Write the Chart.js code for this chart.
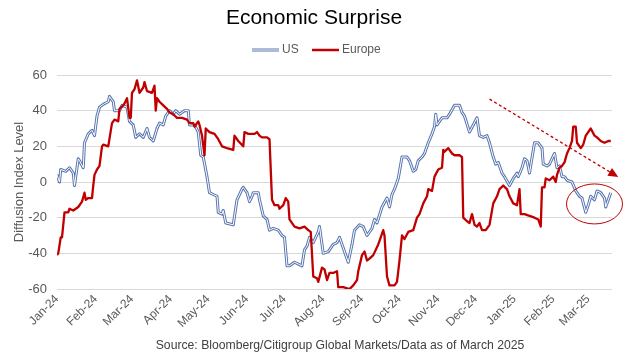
<!DOCTYPE html>
<html>
<head>
<meta charset="utf-8">
<script src="https://cdn.jsdelivr.net/npm/chart.js@4.4.1/dist/chart.umd.min.js"></script>
<style>
html,body{margin:0;padding:0;background:#ffffff;}
#wrap{width:629px;height:355px;}
</style>
</head>
<body>
<div id="wrap"><canvas id="c" width="629" height="355"></canvas></div>
<script>
// ---- DATA (x = days since 2024-01-01) ----
const tickLabels = ['Jan-24','Feb-24','Mar-24','Apr-24','May-24','Jun-24','Jul-24','Aug-24','Sep-24','Oct-24','Nov-24','Dec-24','Jan-25','Feb-25','Mar-25'];
const yTickValues = [-60,-40,-20,0,20,40,60];

const usDays = [
  0,2,3,7,10,13,14,17,18,21,
  22,25,28,30,32,34,38,41,42,45,
  46,50,52,56,58,61,63,66,69,72,
  74,77,80,82,85,87,90,93,95,98,
  102,105,106,110,113,115,117,120,122,125,
  128,129,132,133,135,141,144,148,149,152,
  154,156,157,161,162,165,168,170,173,177,
  180,182,184,186,190,193,196,198,200,202,
  205,209,210,213,217,221,224,226,229,233,
  236,238,242,245,248,252,254,256,260,264,
  266,268,270,273,276,280,282,285,287,289,
  292,294,297,300,302,303,304,308,312,314,
  318,322,324,326,330,333,336,338,341,344,
  346,349,351,353,356,358,362,365,368,369,
  372,374,376,378,382,385,388,389,392,394,
  398,400,402,404,406,408,412,415,418,420,
  423,425,427,430,432,435,438,439,443
];
const usValues = [
  4,0,7,6,8,5,-2,13,12,8,
  22,27,29,26,37,42,44,45,48,45,
  40,40,43,42,34,32,25,27,25,30,
  25,23,30,33,32,37,40,38,40,38,
  40,40,32,32,28,15,14,3,-6,-7,
  -8,-17,-18,-16,-23,-24,-10,-4,-3,-6,
  -11,-8,-6,-6,-10,-19,-21,-27,-26,-27,
  -30,-31,-47,-47,-45,-46,-47,-38,-36,-31,
  -34,-28,-25,-40,-39,-35,-34,-31,-37,-45,
  -35,-27,-24,-25,-30,-26,-21,-23,-14,-9,
  -14,-7,-4,2,14,14,12,6,7,12,
  14,16,22,27,31,38,32,36,36,38,
  43,43,39,37,28,32,36,26,25,26,
  22,14,10,11,5,3,-2,2,5,3,
  8,13,12,5,22,22,19,10,9,10,
  16,8,9,3,3,1,0,-5,-8,-9,
  -17,-13,-8,-10,-5,-6,-9,-14,-6
];

const euDays = [
  0,1,3,4,6,9,10,13,17,20,
  22,23,25,28,29,30,32,34,36,37,
  41,44,46,49,50,53,54,56,58,59,
  60,62,64,66,69,70,72,76,78,79,
  80,82,85,88,90,93,96,100,104,106,
  109,110,113,114,116,118,119,122,126,129,
  132,136,141,142,145,149,150,153,156,158,
  160,162,164,168,170,172,174,177,178,181,
  183,185,186,190,194,198,201,203,205,208,
  209,212,214,216,218,221,224,225,229,234,
  237,240,241,244,246,248,250,253,257,258,
  261,262,264,266,270,272,274,276,278,281,
  285,288,290,293,296,297,300,302,305,308,
  309,310,313,316,318,322,324,325,328,330,
  332,334,336,338,340,343,346,349,352,354,
  357,360,362,365,368,370,371,374,378,382,
  385,387,388,390,391,394,397,399,400,402,
  404,406,408,410,412,413,415,416,419,421,
  423,427,430,432,435,438,441,443
];
const euValues = [
  -41,-40,-31,-31,-17,-17,-15,-16,-14,-11,
  -6,-10,-9,-9,-2,4,7,9,20,21,
  20,33,35,34,41,43,44,47,36,36,
  50,52,57,50,53,56,51,50,54,40,
  47,45,43,41,39,38,36,36,35,33,
  33,31,34,32,26,15,30,28,27,24,
  20,19,18,26,23,20,28,27,27,27,
  28,26,25,25,24,-10,-13,-13,-15,-13,
  -9,-11,-21,-25,-26,-25,-27,-28,-53,-54,
  -56,-48,-49,-55,-51,-51,-50,-59,-59,-60,
  -58,-55,-50,-41,-39,-44,-43,-41,-35,-33,
  -27,-30,-53,-58,-58,-56,-44,-30,-32,-28,
  -27,-20,-18,-12,-8,-4,-5,3,7,8,
  18,17,19,16,15,15,14,-20,-22,-23,
  -18,-24,-25,-23,-27,-27,-24,-12,-8,-4,
  -2,-4,-8,-12,-13,-4,-18,-18,-19,-20,
  -21,-25,-3,-3,2,1,3,0,4,8,
  9,11,16,19,23,31,31,22,19,21,
  26,30,26,25,23,22,23,23
];

// annotation anchors in data units (day, value)
const arrowStart = [346, 46.5];
const arrowTip = [449, 2.8];
const ellipseCenter = [430, -12.3];

// ---- derived ----
const DAY = 86400000;
const base = Date.UTC(2024, 0, 1);
const tickDays = tickLabels.map((l, i) => Math.round((Date.UTC(2024, i, 1) - base) / DAY));
const toPoints = (xs, ys) => xs.map((x, i) => ({x: x, y: ys[i]}));
const FONT = '"Liberation Sans", Arial, sans-serif';
const US_BLUE = '#5a77b0';
const EU_RED = '#c00000';

const overlayPlugin = {
  id: 'overlay',
  afterDatasetsDraw(chart) {
    const ctx = chart.ctx, xs = chart.scales.x, ys = chart.scales.y;
    ctx.save();
    // dotted arrow
    const x0 = xs.getPixelForValue(arrowStart[0]), y0 = ys.getPixelForValue(arrowStart[1]);
    const x1 = xs.getPixelForValue(arrowTip[0]), y1 = ys.getPixelForValue(arrowTip[1]);
    const ang = Math.atan2(y1 - y0, x1 - x0);
    const headL = 10, headW = 4.5;
    const bx = x1 - headL * Math.cos(ang), by = y1 - headL * Math.sin(ang);
    ctx.strokeStyle = EU_RED; ctx.lineWidth = 1.3; ctx.setLineDash([3, 2.5]);
    ctx.beginPath(); ctx.moveTo(x0, y0); ctx.lineTo(bx, by); ctx.stroke();
    ctx.setLineDash([]);
    ctx.fillStyle = EU_RED;
    ctx.beginPath();
    ctx.moveTo(x1, y1);
    ctx.lineTo(bx + headW * Math.sin(ang), by - headW * Math.cos(ang));
    ctx.lineTo(bx - headW * Math.sin(ang), by + headW * Math.cos(ang));
    ctx.closePath(); ctx.fill();
    // ellipse
    const cx = xs.getPixelForValue(ellipseCenter[0]), cy = ys.getPixelForValue(ellipseCenter[1]);
    ctx.strokeStyle = EU_RED; ctx.lineWidth = 1;
    ctx.beginPath(); ctx.ellipse(cx, cy, 28, 20, 0, 0, Math.PI * 2); ctx.stroke();
    ctx.restore();
  },
  afterDraw(chart) {
    const ctx = chart.ctx;
    ctx.save();
    // title
    ctx.fillStyle = '#000000';
    ctx.font = '21px ' + FONT;
    ctx.textAlign = 'center'; ctx.textBaseline = 'middle';
    ctx.fillText('Economic Surprise', 314, 18);
    // legend
    const ly = 50;
    ctx.lineCap = 'butt';
    ctx.strokeStyle = US_BLUE; ctx.lineWidth = 3;
    ctx.beginPath(); ctx.moveTo(252, ly); ctx.lineTo(279, ly); ctx.stroke();
    ctx.strokeStyle = '#ffffff'; ctx.lineWidth = 1;
    ctx.beginPath(); ctx.moveTo(252, ly); ctx.lineTo(279, ly); ctx.stroke();
    ctx.strokeStyle = EU_RED; ctx.lineWidth = 2.5;
    ctx.beginPath(); ctx.moveTo(312, ly); ctx.lineTo(339, ly); ctx.stroke();
    ctx.fillStyle = '#595959';
    ctx.font = '12px ' + FONT;
    ctx.textAlign = 'left';
    ctx.fillText('US', 282, ly);
    ctx.fillText('Europe', 342, ly);
    // source
    ctx.fillStyle = '#404040';
    ctx.font = '12.2px ' + FONT;
    ctx.textAlign = 'center';
    ctx.fillText('Source: Bloomberg/Citigroup Global Markets/Data as of March 2025', 340, 346);
    ctx.restore();
  }
};

new Chart(document.getElementById('c'), {
  type: 'line',
  data: {
    datasets: [
      { label: 'US', data: toPoints(usDays, usValues), borderColor: US_BLUE, borderWidth: 3, pointRadius: 0, tension: 0, borderJoinStyle: 'round', order: 3 },
      { label: 'US (inner)', data: toPoints(usDays, usValues), borderColor: '#ffffff', borderWidth: 1, pointRadius: 0, tension: 0, borderJoinStyle: 'round', order: 2 },
      { label: 'Europe', data: toPoints(euDays, euValues), borderColor: EU_RED, borderWidth: 2.3, pointRadius: 0, tension: 0, borderJoinStyle: 'round', order: 1 }
    ]
  },
  options: {
    responsive: false,
    animation: false,
    events: [],
    layout: { padding: { top: 75, right: 17, bottom: 20, left: 0 } },
    plugins: { legend: { display: false }, title: { display: false }, tooltip: { enabled: false } },
    scales: {
      x: {
        type: 'linear', min: 0, max: 444,
        afterBuildTicks: s => { s.ticks = tickDays.map(v => ({ value: v })); },
        afterFit: s => { s.height = 46; },
        grid: { display: false, drawTicks: false },
        border: { display: false },
        ticks: {
          autoSkip: false, maxRotation: 45, minRotation: 45, padding: 3,
          color: '#595959', font: { family: FONT, size: 12 },
          callback: v => { const i = tickDays.indexOf(v); return i >= 0 ? tickLabels[i] : ''; }
        }
      },
      y: {
        min: -60, max: 60,
        afterBuildTicks: s => { s.ticks = yTickValues.map(v => ({ value: v })); },
        afterFit: s => { s.width = 57; },
        grid: { color: '#d9d9d9', lineWidth: 1, drawTicks: false },
        border: { display: false },
        ticks: { padding: 10, color: '#595959', font: { family: FONT, size: 13 } },
        title: { display: true, text: 'Diffusion Index Level', color: '#595959', font: { family: FONT, size: 13 }, padding: { top: 12, bottom: 0 } }
      }
    }
  },
  plugins: [overlayPlugin]
});
</script>
</body>
</html>
